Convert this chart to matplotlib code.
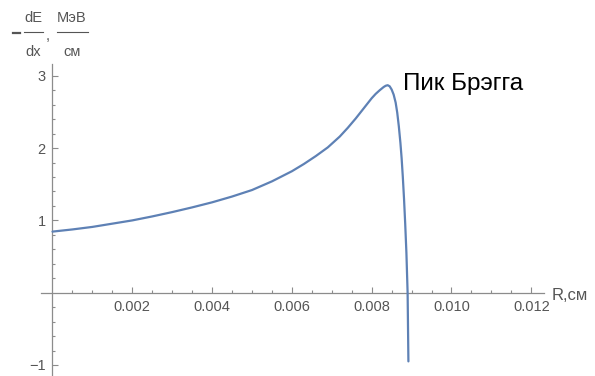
import matplotlib

matplotlib.use("Agg")
import matplotlib.pyplot as plt  # noqa: E402
from matplotlib.lines import Line2D  # noqa: E402
from matplotlib.ticker import FixedLocator  # noqa: E402

# Значения: R (см) и -dE/dx (МэВ/см)
r_cm = [0.0, 0.0005, 0.001, 0.0015, 0.002, 0.0025, 0.003, 0.0035, 0.004,
        0.0045, 0.005, 0.0055, 0.006, 0.0063, 0.0066, 0.0069, 0.0072,
        0.0074, 0.0076, 0.0078, 0.008, 0.0081, 0.0082, 0.0083, 0.00835,
        0.0084, 0.00845, 0.0085, 0.00855, 0.0086, 0.00864, 0.00868,
        0.00872, 0.00875, 0.00878, 0.00881, 0.00884, 0.00887, 0.0089,
        0.00892]
dedx = [0.845, 0.875, 0.91, 0.955, 1.0, 1.055, 1.115, 1.18, 1.25,
        1.33, 1.42, 1.54, 1.68, 1.78, 1.89, 2.01, 2.16,
        2.28, 2.41, 2.55, 2.69, 2.75, 2.80, 2.845, 2.862,
        2.87, 2.855, 2.81, 2.74, 2.63, 2.49, 2.30,
        2.07, 1.86, 1.60, 1.30, 0.95, 0.55, 0.0,
        -0.95]

x_ticks = [0.002, 0.004, 0.006, 0.008, 0.010, 0.012]
x_labels = ["0.002", "0.004", "0.006", "0.008", "0.010", "0.012"]
x_minor = [i * 0.0005 for i in range(1, 25)]
y_ticks = [-1, 1, 2, 3]
y_labels = ["\u22121", "1", "2", "3"]
y_minor = [i * 0.2 for i in range(-5, 16) if i != 0]

W, H = 595, 376
plt.rcParams["font.family"] = ["Liberation Sans", "DejaVu Sans"]

fig = plt.figure(figsize=(W / 100, H / 100), dpi=100)
ax = fig.add_axes([0, 0, 1, 1])
ax.patch.set_alpha(0)

# масштаб: 0.002 см ~ 79.8 px, 1 МэВ/см ~ 72.3 px
x0_px, xs = 52.5, 39900.0
y0_px, ys = 292.7, 72.3
ax.set_xlim(-x0_px / xs, (W - x0_px) / xs)
ax.set_ylim(-(H - y0_px) / ys, y0_px / ys)

ax.plot(r_cm, dedx, color="#5E81B5", lw=1.6, solid_joinstyle="round",
        solid_capstyle="round", clip_on=False, zorder=3)

axis_col = "#8c8c8c"
for s in ("top", "right"):
    ax.spines[s].set_visible(False)
ax.spines["bottom"].set_position(("data", 0))
ax.spines["left"].set_position(("data", 0))
ax.spines["bottom"].set_bounds(-0.00028, 0.01232)
ax.spines["left"].set_bounds(-1.16, 3.17)
for s in ("bottom", "left"):
    ax.spines[s].set_color(axis_col)
    ax.spines[s].set_linewidth(0.9)

ax.xaxis.set_major_locator(FixedLocator(x_ticks))
ax.set_xticklabels(x_labels)
ax.xaxis.set_minor_locator(FixedLocator(x_minor))
ax.yaxis.set_major_locator(FixedLocator(y_ticks))
ax.set_yticklabels(y_labels)
ax.yaxis.set_minor_locator(FixedLocator(y_minor))

ax.tick_params(which="both", direction="in", color=axis_col, width=0.8,
               labelcolor="#555555", labelsize=10.5)
ax.tick_params(which="major", length=4)
ax.tick_params(which="minor", length=2.2)
ax.tick_params(axis="x", which="major", pad=5)
ax.tick_params(axis="y", which="major", pad=5)


def fx(px):
    return px / W


def fy(py):
    return 1 - py / H


lab = dict(color="#555555", fontsize=10.5, ha="center", va="center")
fig.text(fx(552), fy(295), "R,см", color="#555555", fontsize=12,
         ha="left", va="center")

# подпись оси Y в виде дробей
fig.text(fx(33.5), fy(18), "dE", **lab)
fig.text(fx(33.5), fy(52), "dx", **lab)
fig.text(fx(48), fy(36), ",", **lab)
fig.text(fx(72), fy(18), "МэВ", **lab)
fig.text(fx(72), fy(52), "см", **lab)
bars = ((24, 43, 32, 0.8), (57, 88, 32, 0.8), (13, 20, 33, 1.6))
for a, b, yy, w in bars:
    fig.add_artist(Line2D([fx(a), fx(b)], [fy(yy), fy(yy)],
                          transform=fig.transFigure, color="#555555", lw=w))

fig.text(fx(403), fy(84), "Пик Брэгга", color="black", fontsize=17.5,
         ha="left", va="center")

fig.savefig("out.png", dpi=100)
